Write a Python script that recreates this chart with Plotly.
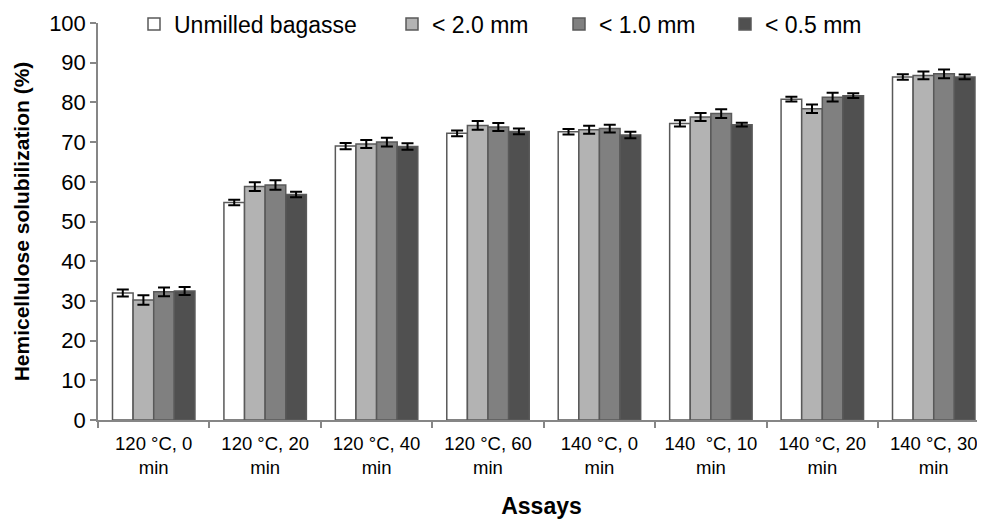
import plotly.graph_objects as go

categories = ["120 °C, 0<br>min", "120 °C, 20<br>min", "120 °C, 40<br>min", "120 °C, 60<br>min",
              "140 °C, 0<br>min", "140  °C, 10<br>min", "140 °C, 20<br>min", "140 °C, 30<br>min"]
series_names = ["Unmilled bagasse", "< 2.0 mm", "< 1.0 mm", "< 0.5 mm"]
unmilled = [32.0, 54.8, 69.0, 72.2, 72.6, 74.7, 80.8, 86.4]
mm20 = [30.2, 58.8, 69.5, 74.2, 73.1, 76.3, 78.4, 86.8]
mm10 = [32.3, 59.2, 70.0, 73.8, 73.4, 77.2, 81.3, 87.2]
mm05 = [32.5, 56.8, 68.9, 72.7, 71.8, 74.4, 81.7, 86.4]
err_unmilled = [0.9, 0.7, 0.8, 0.7, 0.7, 0.8, 0.6, 0.7]
err_mm20 = [1.2, 1.1, 1.0, 1.1, 1.0, 1.0, 1.1, 1.0]
err_mm10 = [1.1, 1.2, 1.1, 1.0, 1.0, 1.1, 1.1, 1.1]
err_mm05 = [1.0, 0.7, 0.8, 0.7, 0.8, 0.5, 0.6, 0.6]

values = [unmilled, mm20, mm10, mm05]
errors = [err_unmilled, err_mm20, err_mm10, err_mm05]
colors = ["#ffffff", "#b3b3b3", "#808080", "#505050"]
legend_ids = ["legend", "legend2", "legend3", "legend4"]
legend_px = [126, 384, 551, 717]

W, H = 977, 511
FONT = "Liberation Sans, Arial, sans-serif"

fig = go.Figure()
for name, vals, errs, col, lid in zip(series_names, values, errors, colors, legend_ids):
    fig.add_trace(go.Bar(
        x=categories, y=vals, name=name, legend=lid, showlegend=True,
        marker=dict(color=col, line=dict(color="#595959", width=1.5)),
        error_y=dict(type="data", array=errs, visible=True, color="#000000", thickness=2, width=6),
    ))

legend_font = dict(family=FONT, size=23, color="#000000")
layout_legends = {}
for lid, px in zip(legend_ids, legend_px):
    layout_legends[lid] = dict(x=px / W, y=1 - 16 / H, xref="container", yref="container",
                               xanchor="left", yanchor="middle",
                               orientation="h", font=legend_font, bgcolor="rgba(0,0,0,0)",
                               itemwidth=30, tracegroupgap=0)

fig.update_layout(
    width=W, height=H,
    margin=dict(l=90, r=0, t=15, b=99, autoexpand=False),
    paper_bgcolor="white", plot_bgcolor="white",
    barmode="group", bargap=0.26, bargroupgap=0,
    showlegend=True,
    font=dict(family=FONT, color="#000000"),
    **layout_legends,
)
fig.update_yaxes(
    range=[0, 100], dtick=10, tick0=0, automargin=False,
    showline=True, linecolor="#868686", linewidth=1.5,
    ticks="outside", ticklen=6, tickcolor="#868686", tickwidth=1.5,
    showgrid=False, zeroline=False,
    tickfont=dict(size=22, family=FONT),
    title=dict(text="<b>Hemicellulose solubilization (%)</b>",
               font=dict(size=21, family=FONT), standoff=14),
)
fig.update_xaxes(
    range=[-0.5, 7.46], automargin=False,
    showline=True, linecolor="#868686", linewidth=1.5,
    ticks="outside", ticklen=6, tickcolor="#868686", tickwidth=1.5, tickson="boundaries",
    showgrid=False, ticklabelstandoff=6,
    tickfont=dict(size=18.5, family=FONT),
    title=dict(text="<b>Assays</b>", font=dict(size=23, family=FONT), standoff=26),
)

fig.write_html("out.html")
